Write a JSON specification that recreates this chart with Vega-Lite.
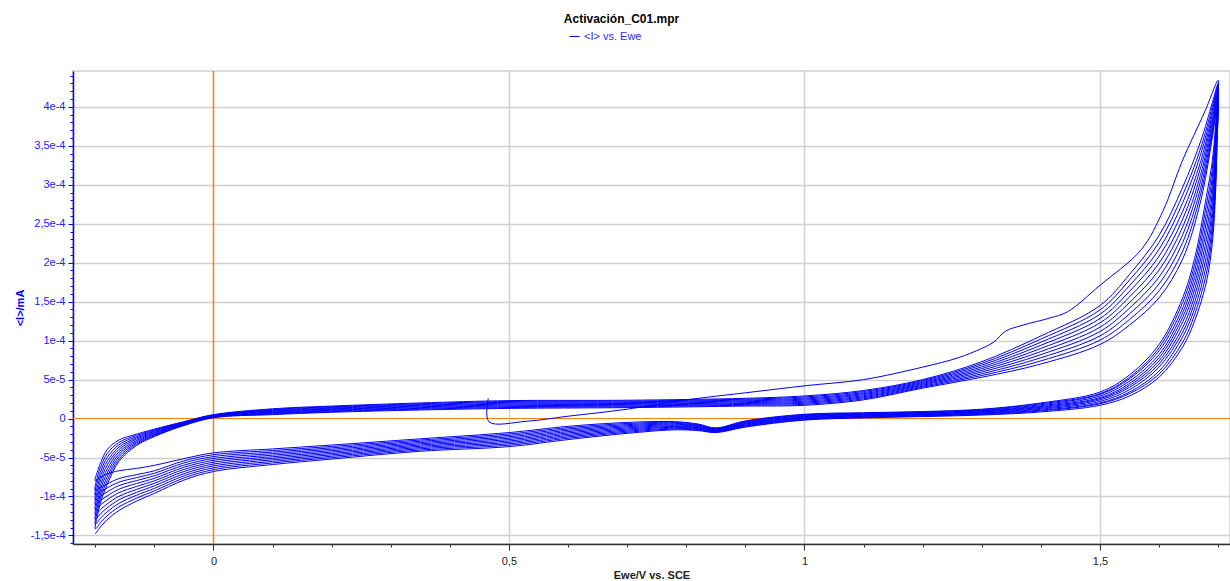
{
"$schema":"https://vega.github.io/schema/vega-lite/v6.json",
"width":1157,"height":473,
"autosize":"none",
"padding":{"left":73,"top":71,"right":0,"bottom":37},
"background":"white",
"config":{"font":"Liberation Sans","view":{"stroke":"#d0d0d0","strokeWidth":1.5}},
"title":{"text":"Activación_C01.mpr","anchor":"middle","fontSize":12,"fontWeight":"bold","color":"#000000","offset":5,"dx":-30,"font":"Liberation Sans"},
"layer":[
{"data":{"values":[{}]},"mark":{"type":"rule","color":"#ff8000","strokeWidth":1.5},
 "encoding":{"x":{"datum":0,"type":"quantitative","scale":{"domain":[-0.2377,1.72],"nice":false,"zero":false},
  "axis":{"orient":"bottom","values":[-0.2,-0.1,0,0.1,0.2,0.3,0.4,0.5,0.6,0.7,0.8,0.9,1,1.1,1.2,1.3,1.4,1.5,1.6,1.7],"labels":false,"domain":false,"grid":false,"tickSize":3,"tickColor":"#333333","title":null}}}},
{"data":{"values":[{}]},"mark":{"type":"rule","color":"#ff8000","strokeWidth":1},
 "encoding":{"y":{"datum":0,"type":"quantitative","scale":{"domain":[-1.61e-4,4.46e-4],"nice":false,"zero":false},
  "axis":{"orient":"left","values":[-16e-5,-15e-5,-14e-5,-13e-5,-12e-5,-11e-5,-10e-5,-9e-5,-8e-5,-7e-5,-6e-5,-5e-5,-4e-5,-3e-5,-2e-5,-1e-5,0,1e-5,2e-5,3e-5,4e-5,5e-5,6e-5,7e-5,8e-5,9e-5,10e-5,11e-5,12e-5,13e-5,14e-5,15e-5,16e-5,17e-5,18e-5,19e-5,20e-5,21e-5,22e-5,23e-5,24e-5,25e-5,26e-5,27e-5,28e-5,29e-5,30e-5,31e-5,32e-5,33e-5,34e-5,35e-5,36e-5,37e-5,38e-5,39e-5,40e-5,41e-5,42e-5,43e-5,44e-5],"labels":false,"domain":false,"grid":false,"tickSize":3,"tickColor":"#0000ff","title":null}}}},
{"data":{"values":[
{"x":0.465,"y":0.26e-4},{"x":0.466,"y":-0.04e-4},{"x":0.53,"y":-0.035e-4},{"x":0.6,"y":0.03e-4},{"x":0.7,"y":0.12e-4},{"x":0.8,"y":0.24e-4},{"x":0.9,"y":0.33e-4},{"x":1.0,"y":0.42e-4},{"x":1.1,"y":0.5e-4},{"x":1.2,"y":0.66e-4},{"x":1.26,"y":0.78e-4},{"x":1.3,"y":0.9e-4},{"x":1.32,"y":0.98e-4},{"x":1.34,"y":1.12e-4},{"x":1.37,"y":1.2e-4},{"x":1.415,"y":1.29e-4},{"x":1.445,"y":1.37e-4},{"x":1.5,"y":1.71e-4},{"x":1.57,"y":2.17e-4},{"x":1.607,"y":2.67e-4},{"x":1.639,"y":3.3e-4},{"x":1.678,"y":3.95e-4},{"x":1.7,"y":4.34e-4},
{"x":1.698,"y":4.05e-4},{"x":1.695,"y":3.7e-4},{"x":1.69,"y":3.3e-4},{"x":1.68,"y":2.85e-4},{"x":1.66,"y":2.05e-4},{"x":1.64,"y":1.55e-4},{"x":1.6,"y":0.95e-4},{"x":1.55,"y":0.56e-4},{"x":1.5,"y":0.34e-4},{"x":1.4,"y":0.2e-4},{"x":1.3,"y":0.12e-4},{"x":1.2,"y":0.09e-4},{"x":1.1,"y":0.075e-4},{"x":1.0,"y":0.055e-4},{"x":0.9,"y":-0.03e-4},{"x":0.85,"y":-0.12e-4},{"x":0.82,"y":-0.07e-4},{"x":0.78,"y":-0.04e-4},{"x":0.7,"y":-0.05e-4},{"x":0.6,"y":-0.1e-4},{"x":0.5,"y":-0.18e-4},{"x":0.35,"y":-0.26e-4},{"x":0.2,"y":-0.34e-4},{"x":0.1,"y":-0.39e-4},{"x":0,"y":-0.44e-4},{"x":-0.05,"y":-0.515e-4},{"x":-0.1,"y":-0.6e-4},{"x":-0.13,"y":-0.64e-4},{"x":-0.16,"y":-0.67e-4},{"x":-0.18,"y":-0.71e-4},{"x":-0.19,"y":-0.75e-4},{"x":-0.2,"y":-0.8e-4},
{"x":-0.195,"y":-0.65e-4},{"x":-0.19,"y":-0.55e-4},{"x":-0.18,"y":-0.4e-4},{"x":-0.16,"y":-0.275e-4},{"x":-0.13,"y":-0.2e-4},{"x":-0.09,"y":-0.115e-4},{"x":-0.05,"y":-0.04e-4},{"x":0,"y":0.05e-4},{"x":0.1,"y":0.125e-4},{"x":0.2,"y":0.16e-4},{"x":0.35,"y":0.2e-4},{"x":0.5,"y":0.23e-4},{"x":0.7,"y":0.235e-4},{"x":0.9,"y":0.26e-4},{"x":1.0,"y":0.29e-4},{"x":1.1,"y":0.36e-4},{"x":1.2,"y":0.5e-4},{"x":1.3,"y":0.73e-4},{"x":1.4,"y":1.06e-4},{"x":1.5,"y":1.45e-4},{"x":1.55,"y":1.85e-4},{"x":1.6,"y":2.35e-4},{"x":1.64,"y":2.97e-4},{"x":1.67,"y":3.55e-4},{"x":1.69,"y":4.05e-4},{"x":1.7,"y":4.3e-4},
{"x":1.698,"y":4.0e-4},{"x":1.695,"y":3.61e-4},{"x":1.69,"y":3.2e-4},{"x":1.68,"y":2.74e-4},{"x":1.66,"y":1.97e-4},{"x":1.64,"y":1.49e-4},{"x":1.6,"y":0.91e-4},{"x":1.55,"y":0.53e-4},{"x":1.5,"y":0.32e-4},{"x":1.4,"y":0.19e-4},{"x":1.3,"y":0.113e-4},{"x":1.2,"y":0.084e-4},{"x":1.1,"y":0.068e-4},{"x":1.0,"y":0.048e-4},{"x":0.9,"y":-0.038e-4},{"x":0.85,"y":-0.126e-4},{"x":0.82,"y":-0.079e-4},{"x":0.78,"y":-0.05e-4},{"x":0.7,"y":-0.064e-4},{"x":0.6,"y":-0.117e-4},{"x":0.5,"y":-0.198e-4},{"x":0.35,"y":-0.276e-4},{"x":0.2,"y":-0.358e-4},{"x":0.1,"y":-0.41e-4},{"x":0,"y":-0.464e-4},{"x":-0.05,"y":-0.543e-4},{"x":-0.1,"y":-0.67e-4},{"x":-0.13,"y":-0.72e-4},{"x":-0.16,"y":-0.77e-4},{"x":-0.18,"y":-0.84e-4},{"x":-0.19,"y":-0.88e-4},{"x":-0.2,"y":-0.92e-4},
{"x":-0.195,"y":-0.711e-4},{"x":-0.19,"y":-0.606e-4},{"x":-0.18,"y":-0.45e-4},{"x":-0.16,"y":-0.306e-4},{"x":-0.13,"y":-0.216e-4},{"x":-0.09,"y":-0.124e-4},{"x":-0.05,"y":-0.046e-4},{"x":0,"y":0.046e-4},{"x":0.1,"y":0.117e-4},{"x":0.2,"y":0.151e-4},{"x":0.35,"y":0.19e-4},{"x":0.5,"y":0.219e-4},{"x":0.7,"y":0.224e-4},{"x":0.9,"y":0.249e-4},{"x":1.0,"y":0.277e-4},{"x":1.1,"y":0.347e-4},{"x":1.2,"y":0.488e-4},{"x":1.3,"y":0.708e-4},{"x":1.4,"y":1.02e-4},{"x":1.5,"y":1.394e-4},{"x":1.55,"y":1.778e-4},{"x":1.6,"y":2.261e-4},{"x":1.64,"y":2.87e-4},{"x":1.67,"y":3.46e-4},{"x":1.69,"y":4.0e-4},{"x":1.7,"y":4.28e-4},
{"x":1.698,"y":3.94e-4},{"x":1.695,"y":3.52e-4},{"x":1.69,"y":3.09e-4},{"x":1.68,"y":2.63e-4},{"x":1.66,"y":1.89e-4},{"x":1.64,"y":1.42e-4},{"x":1.6,"y":0.87e-4},{"x":1.55,"y":0.51e-4},{"x":1.5,"y":0.31e-4},{"x":1.4,"y":0.177e-4},{"x":1.3,"y":0.105e-4},{"x":1.2,"y":0.077e-4},{"x":1.1,"y":0.061e-4},{"x":1.0,"y":0.04e-4},{"x":0.9,"y":-0.046e-4},{"x":0.85,"y":-0.132e-4},{"x":0.82,"y":-0.087e-4},{"x":0.78,"y":-0.061e-4},{"x":0.7,"y":-0.078e-4},{"x":0.6,"y":-0.134e-4},{"x":0.5,"y":-0.216e-4},{"x":0.35,"y":-0.292e-4},{"x":0.2,"y":-0.376e-4},{"x":0.1,"y":-0.43e-4},{"x":0,"y":-0.488e-4},{"x":-0.05,"y":-0.57e-4},{"x":-0.1,"y":-0.702e-4},{"x":-0.13,"y":-0.758e-4},{"x":-0.16,"y":-0.816e-4},{"x":-0.18,"y":-0.891e-4},{"x":-0.19,"y":-0.936e-4},{"x":-0.2,"y":-0.982e-4},
{"x":-0.195,"y":-0.772e-4},{"x":-0.19,"y":-0.661e-4},{"x":-0.18,"y":-0.5e-4},{"x":-0.16,"y":-0.336e-4},{"x":-0.13,"y":-0.232e-4},{"x":-0.09,"y":-0.134e-4},{"x":-0.05,"y":-0.051e-4},{"x":0,"y":0.041e-4},{"x":0.1,"y":0.108e-4},{"x":0.2,"y":0.142e-4},{"x":0.35,"y":0.18e-4},{"x":0.5,"y":0.208e-4},{"x":0.7,"y":0.214e-4},{"x":0.9,"y":0.238e-4},{"x":1.0,"y":0.263e-4},{"x":1.1,"y":0.333e-4},{"x":1.2,"y":0.476e-4},{"x":1.3,"y":0.686e-4},{"x":1.4,"y":0.98e-4},{"x":1.5,"y":1.339e-4},{"x":1.55,"y":1.706e-4},{"x":1.6,"y":2.172e-4},{"x":1.64,"y":2.77e-4},{"x":1.67,"y":3.38e-4},{"x":1.69,"y":3.95e-4},{"x":1.7,"y":4.26e-4},
{"x":1.698,"y":3.89e-4},{"x":1.695,"y":3.43e-4},{"x":1.69,"y":2.99e-4},{"x":1.68,"y":2.52e-4},{"x":1.66,"y":1.81e-4},{"x":1.64,"y":1.36e-4},{"x":1.6,"y":0.82e-4},{"x":1.55,"y":0.48e-4},{"x":1.5,"y":0.29e-4},{"x":1.4,"y":0.165e-4},{"x":1.3,"y":0.098e-4},{"x":1.2,"y":0.071e-4},{"x":1.1,"y":0.055e-4},{"x":1.0,"y":0.033e-4},{"x":0.9,"y":-0.054e-4},{"x":0.85,"y":-0.138e-4},{"x":0.82,"y":-0.096e-4},{"x":0.78,"y":-0.072e-4},{"x":0.7,"y":-0.092e-4},{"x":0.6,"y":-0.151e-4},{"x":0.5,"y":-0.234e-4},{"x":0.35,"y":-0.308e-4},{"x":0.2,"y":-0.394e-4},{"x":0.1,"y":-0.45e-4},{"x":0,"y":-0.512e-4},{"x":-0.05,"y":-0.598e-4},{"x":-0.1,"y":-0.734e-4},{"x":-0.13,"y":-0.796e-4},{"x":-0.16,"y":-0.861e-4},{"x":-0.18,"y":-0.942e-4},{"x":-0.19,"y":-0.991e-4},{"x":-0.2,"y":-1.044e-4},
{"x":-0.195,"y":-0.833e-4},{"x":-0.19,"y":-0.717e-4},{"x":-0.18,"y":-0.55e-4},{"x":-0.16,"y":-0.367e-4},{"x":-0.13,"y":-0.248e-4},{"x":-0.09,"y":-0.143e-4},{"x":-0.05,"y":-0.057e-4},{"x":0,"y":0.037e-4},{"x":0.1,"y":0.1e-4},{"x":0.2,"y":0.133e-4},{"x":0.35,"y":0.17e-4},{"x":0.5,"y":0.197e-4},{"x":0.7,"y":0.203e-4},{"x":0.9,"y":0.227e-4},{"x":1.0,"y":0.25e-4},{"x":1.1,"y":0.32e-4},{"x":1.2,"y":0.463e-4},{"x":1.3,"y":0.663e-4},{"x":1.4,"y":0.94e-4},{"x":1.5,"y":1.283e-4},{"x":1.55,"y":1.633e-4},{"x":1.6,"y":2.083e-4},{"x":1.64,"y":2.66e-4},{"x":1.67,"y":3.29e-4},{"x":1.69,"y":3.9e-4},{"x":1.7,"y":4.23e-4},
{"x":1.698,"y":3.83e-4},{"x":1.695,"y":3.34e-4},{"x":1.69,"y":2.88e-4},{"x":1.68,"y":2.41e-4},{"x":1.66,"y":1.73e-4},{"x":1.64,"y":1.3e-4},{"x":1.6,"y":0.78e-4},{"x":1.55,"y":0.45e-4},{"x":1.5,"y":0.27e-4},{"x":1.4,"y":0.154e-4},{"x":1.3,"y":0.09e-4},{"x":1.2,"y":0.064e-4},{"x":1.1,"y":0.048e-4},{"x":1.0,"y":0.025e-4},{"x":0.9,"y":-0.062e-4},{"x":0.85,"y":-0.144e-4},{"x":0.82,"y":-0.104e-4},{"x":0.78,"y":-0.082e-4},{"x":0.7,"y":-0.106e-4},{"x":0.6,"y":-0.168e-4},{"x":0.5,"y":-0.252e-4},{"x":0.35,"y":-0.324e-4},{"x":0.2,"y":-0.412e-4},{"x":0.1,"y":-0.47e-4},{"x":0,"y":-0.536e-4},{"x":-0.05,"y":-0.625e-4},{"x":-0.1,"y":-0.767e-4},{"x":-0.13,"y":-0.833e-4},{"x":-0.16,"y":-0.907e-4},{"x":-0.18,"y":-0.993e-4},{"x":-0.19,"y":-1.047e-4},{"x":-0.2,"y":-1.107e-4},
{"x":-0.195,"y":-0.894e-4},{"x":-0.19,"y":-0.772e-4},{"x":-0.18,"y":-0.6e-4},{"x":-0.16,"y":-0.397e-4},{"x":-0.13,"y":-0.264e-4},{"x":-0.09,"y":-0.153e-4},{"x":-0.05,"y":-0.062e-4},{"x":0,"y":0.032e-4},{"x":0.1,"y":0.092e-4},{"x":0.2,"y":0.124e-4},{"x":0.35,"y":0.16e-4},{"x":0.5,"y":0.186e-4},{"x":0.7,"y":0.193e-4},{"x":0.9,"y":0.216e-4},{"x":1.0,"y":0.237e-4},{"x":1.1,"y":0.307e-4},{"x":1.2,"y":0.451e-4},{"x":1.3,"y":0.641e-4},{"x":1.4,"y":0.9e-4},{"x":1.5,"y":1.228e-4},{"x":1.55,"y":1.561e-4},{"x":1.6,"y":1.994e-4},{"x":1.64,"y":2.56e-4},{"x":1.67,"y":3.21e-4},{"x":1.69,"y":3.85e-4},{"x":1.7,"y":4.21e-4},
{"x":1.698,"y":3.78e-4},{"x":1.695,"y":3.25e-4},{"x":1.69,"y":2.78e-4},{"x":1.68,"y":2.3e-4},{"x":1.66,"y":1.65e-4},{"x":1.64,"y":1.24e-4},{"x":1.6,"y":0.74e-4},{"x":1.55,"y":0.425e-4},{"x":1.5,"y":0.255e-4},{"x":1.4,"y":0.143e-4},{"x":1.3,"y":0.083e-4},{"x":1.2,"y":0.058e-4},{"x":1.1,"y":0.042e-4},{"x":1.0,"y":0.018e-4},{"x":0.9,"y":-0.07e-4},{"x":0.85,"y":-0.15e-4},{"x":0.82,"y":-0.113e-4},{"x":0.78,"y":-0.093e-4},{"x":0.7,"y":-0.12e-4},{"x":0.6,"y":-0.185e-4},{"x":0.5,"y":-0.27e-4},{"x":0.35,"y":-0.34e-4},{"x":0.2,"y":-0.43e-4},{"x":0.1,"y":-0.49e-4},{"x":0,"y":-0.56e-4},{"x":-0.05,"y":-0.653e-4},{"x":-0.1,"y":-0.799e-4},{"x":-0.13,"y":-0.871e-4},{"x":-0.16,"y":-0.952e-4},{"x":-0.18,"y":-1.044e-4},{"x":-0.19,"y":-1.102e-4},{"x":-0.2,"y":-1.169e-4},
{"x":-0.195,"y":-0.956e-4},{"x":-0.19,"y":-0.828e-4},{"x":-0.18,"y":-0.65e-4},{"x":-0.16,"y":-0.428e-4},{"x":-0.13,"y":-0.281e-4},{"x":-0.09,"y":-0.162e-4},{"x":-0.05,"y":-0.068e-4},{"x":0,"y":0.028e-4},{"x":0.1,"y":0.083e-4},{"x":0.2,"y":0.116e-4},{"x":0.35,"y":0.15e-4},{"x":0.5,"y":0.174e-4},{"x":0.7,"y":0.182e-4},{"x":0.9,"y":0.204e-4},{"x":1.0,"y":0.223e-4},{"x":1.1,"y":0.293e-4},{"x":1.2,"y":0.439e-4},{"x":1.3,"y":0.619e-4},{"x":1.4,"y":0.86e-4},{"x":1.5,"y":1.172e-4},{"x":1.55,"y":1.489e-4},{"x":1.6,"y":1.906e-4},{"x":1.64,"y":2.46e-4},{"x":1.67,"y":3.12e-4},{"x":1.69,"y":3.8e-4},{"x":1.7,"y":4.19e-4},
{"x":1.698,"y":3.72e-4},{"x":1.695,"y":3.16e-4},{"x":1.69,"y":2.67e-4},{"x":1.68,"y":2.19e-4},{"x":1.66,"y":1.57e-4},{"x":1.64,"y":1.17e-4},{"x":1.6,"y":0.7e-4},{"x":1.55,"y":0.4e-4},{"x":1.5,"y":0.24e-4},{"x":1.4,"y":0.131e-4},{"x":1.3,"y":0.075e-4},{"x":1.2,"y":0.051e-4},{"x":1.1,"y":0.035e-4},{"x":1.0,"y":0.01e-4},{"x":0.9,"y":-0.078e-4},{"x":0.85,"y":-0.156e-4},{"x":0.82,"y":-0.121e-4},{"x":0.78,"y":-0.103e-4},{"x":0.7,"y":-0.134e-4},{"x":0.6,"y":-0.202e-4},{"x":0.5,"y":-0.288e-4},{"x":0.35,"y":-0.356e-4},{"x":0.2,"y":-0.448e-4},{"x":0.1,"y":-0.51e-4},{"x":0,"y":-0.584e-4},{"x":-0.05,"y":-0.68e-4},{"x":-0.1,"y":-0.831e-4},{"x":-0.13,"y":-0.909e-4},{"x":-0.16,"y":-0.998e-4},{"x":-0.18,"y":-1.096e-4},{"x":-0.19,"y":-1.158e-4},{"x":-0.2,"y":-1.231e-4},
{"x":-0.195,"y":-1.017e-4},{"x":-0.19,"y":-0.883e-4},{"x":-0.18,"y":-0.7e-4},{"x":-0.16,"y":-0.459e-4},{"x":-0.13,"y":-0.297e-4},{"x":-0.09,"y":-0.172e-4},{"x":-0.05,"y":-0.073e-4},{"x":0,"y":0.023e-4},{"x":0.1,"y":0.075e-4},{"x":0.2,"y":0.107e-4},{"x":0.35,"y":0.14e-4},{"x":0.5,"y":0.163e-4},{"x":0.7,"y":0.172e-4},{"x":0.9,"y":0.193e-4},{"x":1.0,"y":0.21e-4},{"x":1.1,"y":0.28e-4},{"x":1.2,"y":0.427e-4},{"x":1.3,"y":0.597e-4},{"x":1.4,"y":0.82e-4},{"x":1.5,"y":1.117e-4},{"x":1.55,"y":1.417e-4},{"x":1.6,"y":1.817e-4},{"x":1.64,"y":2.36e-4},{"x":1.67,"y":3.04e-4},{"x":1.69,"y":3.75e-4},{"x":1.7,"y":4.17e-4},
{"x":1.698,"y":3.67e-4},{"x":1.695,"y":3.07e-4},{"x":1.69,"y":2.57e-4},{"x":1.68,"y":2.08e-4},{"x":1.66,"y":1.49e-4},{"x":1.64,"y":1.11e-4},{"x":1.6,"y":0.66e-4},{"x":1.55,"y":0.37e-4},{"x":1.5,"y":0.22e-4},{"x":1.4,"y":0.12e-4},{"x":1.3,"y":0.068e-4},{"x":1.2,"y":0.045e-4},{"x":1.1,"y":0.028e-4},{"x":1.0,"y":0.003e-4},{"x":0.9,"y":-0.086e-4},{"x":0.85,"y":-0.162e-4},{"x":0.82,"y":-0.13e-4},{"x":0.78,"y":-0.113e-4},{"x":0.7,"y":-0.148e-4},{"x":0.6,"y":-0.219e-4},{"x":0.5,"y":-0.306e-4},{"x":0.35,"y":-0.372e-4},{"x":0.2,"y":-0.466e-4},{"x":0.1,"y":-0.53e-4},{"x":0,"y":-0.608e-4},{"x":-0.05,"y":-0.708e-4},{"x":-0.1,"y":-0.863e-4},{"x":-0.13,"y":-0.947e-4},{"x":-0.16,"y":-1.043e-4},{"x":-0.18,"y":-1.147e-4},{"x":-0.19,"y":-1.213e-4},{"x":-0.2,"y":-1.293e-4},
{"x":-0.195,"y":-1.078e-4},{"x":-0.19,"y":-0.939e-4},{"x":-0.18,"y":-0.75e-4},{"x":-0.16,"y":-0.489e-4},{"x":-0.13,"y":-0.313e-4},{"x":-0.09,"y":-0.181e-4},{"x":-0.05,"y":-0.079e-4},{"x":0,"y":0.019e-4},{"x":0.1,"y":0.067e-4},{"x":0.2,"y":0.098e-4},{"x":0.35,"y":0.13e-4},{"x":0.5,"y":0.152e-4},{"x":0.7,"y":0.161e-4},{"x":0.9,"y":0.182e-4},{"x":1.0,"y":0.197e-4},{"x":1.1,"y":0.267e-4},{"x":1.2,"y":0.414e-4},{"x":1.3,"y":0.574e-4},{"x":1.4,"y":0.78e-4},{"x":1.5,"y":1.061e-4},{"x":1.55,"y":1.344e-4},{"x":1.6,"y":1.728e-4},{"x":1.64,"y":2.26e-4},{"x":1.67,"y":2.95e-4},{"x":1.69,"y":3.7e-4},{"x":1.7,"y":4.14e-4},
{"x":1.698,"y":3.61e-4},{"x":1.695,"y":2.98e-4},{"x":1.69,"y":2.46e-4},{"x":1.68,"y":1.97e-4},{"x":1.66,"y":1.41e-4},{"x":1.64,"y":1.05e-4},{"x":1.6,"y":0.61e-4},{"x":1.55,"y":0.34e-4},{"x":1.5,"y":0.2e-4},{"x":1.4,"y":0.108e-4},{"x":1.3,"y":0.06e-4},{"x":1.2,"y":0.038e-4},{"x":1.1,"y":0.021e-4},{"x":1.0,"y":-0.005e-4},{"x":0.9,"y":-0.094e-4},{"x":0.85,"y":-0.168e-4},{"x":0.82,"y":-0.138e-4},{"x":0.78,"y":-0.124e-4},{"x":0.7,"y":-0.162e-4},{"x":0.6,"y":-0.236e-4},{"x":0.5,"y":-0.324e-4},{"x":0.35,"y":-0.388e-4},{"x":0.2,"y":-0.484e-4},{"x":0.1,"y":-0.55e-4},{"x":0,"y":-0.632e-4},{"x":-0.05,"y":-0.735e-4},{"x":-0.1,"y":-0.896e-4},{"x":-0.13,"y":-0.984e-4},{"x":-0.16,"y":-1.089e-4},{"x":-0.18,"y":-1.198e-4},{"x":-0.19,"y":-1.269e-4},{"x":-0.2,"y":-1.356e-4},
{"x":-0.195,"y":-1.139e-4},{"x":-0.19,"y":-0.994e-4},{"x":-0.18,"y":-0.8e-4},{"x":-0.16,"y":-0.52e-4},{"x":-0.13,"y":-0.329e-4},{"x":-0.09,"y":-0.191e-4},{"x":-0.05,"y":-0.084e-4},{"x":0,"y":0.014e-4},{"x":0.1,"y":0.058e-4},{"x":0.2,"y":0.089e-4},{"x":0.35,"y":0.12e-4},{"x":0.5,"y":0.141e-4},{"x":0.7,"y":0.151e-4},{"x":0.9,"y":0.171e-4},{"x":1.0,"y":0.183e-4},{"x":1.1,"y":0.253e-4},{"x":1.2,"y":0.402e-4},{"x":1.3,"y":0.552e-4},{"x":1.4,"y":0.74e-4},{"x":1.5,"y":1.006e-4},{"x":1.55,"y":1.272e-4},{"x":1.6,"y":1.639e-4},{"x":1.64,"y":2.15e-4},{"x":1.67,"y":2.87e-4},{"x":1.69,"y":3.65e-4},{"x":1.7,"y":4.12e-4},
{"x":1.698,"y":3.56e-4},{"x":1.695,"y":2.89e-4},{"x":1.69,"y":2.36e-4},{"x":1.68,"y":1.86e-4},{"x":1.66,"y":1.33e-4},{"x":1.64,"y":0.98e-4},{"x":1.6,"y":0.57e-4},{"x":1.55,"y":0.32e-4},{"x":1.5,"y":0.19e-4},{"x":1.4,"y":0.097e-4},{"x":1.3,"y":0.053e-4},{"x":1.2,"y":0.032e-4},{"x":1.1,"y":0.015e-4},{"x":1.0,"y":-0.013e-4},{"x":0.9,"y":-0.102e-4},{"x":0.85,"y":-0.174e-4},{"x":0.82,"y":-0.147e-4},{"x":0.78,"y":-0.135e-4},{"x":0.7,"y":-0.176e-4},{"x":0.6,"y":-0.253e-4},{"x":0.5,"y":-0.342e-4},{"x":0.35,"y":-0.404e-4},{"x":0.2,"y":-0.502e-4},{"x":0.1,"y":-0.57e-4},{"x":0,"y":-0.656e-4},{"x":-0.05,"y":-0.763e-4},{"x":-0.1,"y":-0.928e-4},{"x":-0.13,"y":-1.022e-4},{"x":-0.16,"y":-1.134e-4},{"x":-0.18,"y":-1.249e-4},{"x":-0.19,"y":-1.324e-4},{"x":-0.2,"y":-1.418e-4},
{"x":-0.195,"y":-1.2e-4},{"x":-0.19,"y":-1.05e-4},{"x":-0.18,"y":-0.85e-4},{"x":-0.16,"y":-0.55e-4},{"x":-0.13,"y":-0.345e-4},{"x":-0.09,"y":-0.2e-4},{"x":-0.05,"y":-0.09e-4},{"x":0,"y":0.01e-4},{"x":0.1,"y":0.05e-4},{"x":0.2,"y":0.08e-4},{"x":0.35,"y":0.11e-4},{"x":0.5,"y":0.13e-4},{"x":0.7,"y":0.14e-4},{"x":0.9,"y":0.16e-4},{"x":1.0,"y":0.17e-4},{"x":1.1,"y":0.24e-4},{"x":1.2,"y":0.39e-4},{"x":1.3,"y":0.53e-4},{"x":1.4,"y":0.7e-4},{"x":1.5,"y":0.95e-4},{"x":1.55,"y":1.2e-4},{"x":1.6,"y":1.55e-4},{"x":1.64,"y":2.05e-4},{"x":1.67,"y":2.78e-4},{"x":1.69,"y":3.6e-4},{"x":1.7,"y":4.1e-4},
{"x":1.698,"y":3.5e-4},{"x":1.695,"y":2.8e-4},{"x":1.69,"y":2.25e-4},{"x":1.68,"y":1.75e-4},{"x":1.66,"y":1.25e-4},{"x":1.64,"y":0.92e-4},{"x":1.6,"y":0.53e-4},{"x":1.55,"y":0.29e-4},{"x":1.5,"y":0.17e-4},{"x":1.4,"y":0.085e-4},{"x":1.3,"y":0.045e-4},{"x":1.2,"y":0.025e-4},{"x":1.1,"y":0.008e-4},{"x":1.0,"y":-0.02e-4},{"x":0.9,"y":-0.11e-4},{"x":0.85,"y":-0.18e-4},{"x":0.82,"y":-0.155e-4},{"x":0.78,"y":-0.145e-4},{"x":0.7,"y":-0.19e-4},{"x":0.6,"y":-0.27e-4},{"x":0.5,"y":-0.36e-4},{"x":0.35,"y":-0.42e-4},{"x":0.2,"y":-0.52e-4},{"x":0.1,"y":-0.59e-4},{"x":0,"y":-0.68e-4},{"x":-0.05,"y":-0.79e-4},{"x":-0.1,"y":-0.96e-4},{"x":-0.13,"y":-1.06e-4},{"x":-0.16,"y":-1.18e-4},{"x":-0.18,"y":-1.3e-4},{"x":-0.19,"y":-1.38e-4},{"x":-0.2,"y":-1.48e-4}
]},
 "mark":{"type":"line","strokeWidth":1,"interpolate":"catmull-rom"},
 "encoding":{
  "x":{"field":"x","type":"quantitative","scale":{"domain":[-0.2377,1.72],"nice":false,"zero":false},
   "axis":{"orient":"bottom","values":[0,0.5,1,1.5],"labelExpr":"replace(toString(datum.value),'.',',')","grid":true,"gridColor":{"condition":{"test":"datum.value === 0","value":"transparent"},"value":"#d0d0d0"},"gridWidth":1.5,"tickSize":6,"tickColor":"#333333","domainColor":"#333333","domainWidth":1.5,"labelColor":"#222222","labelFontSize":11,"labelPadding":5,"title":"Ewe/V vs. SCE","titleFontWeight":"bold","titleFontSize":11,"titleColor":"#222222","titlePadding":3}},
  "y":{"field":"y","type":"quantitative","scale":{"domain":[-1.61e-4,4.46e-4],"nice":false,"zero":false},
   "axis":{"orient":"left","values":[-15e-5,-10e-5,-5e-5,0,5e-5,10e-5,15e-5,20e-5,25e-5,30e-5,35e-5,40e-5],"labelExpr":"datum.value == 0 ? '0' : (datum.value < 0 ? '-' : '') + replace(format(abs(datum.value), '~e'), '.', ',')","grid":true,"gridColor":{"condition":{"test":"datum.value === 0","value":"transparent"},"value":"#d0d0d0"},"gridWidth":1.5,"tickSize":5,"tickColor":"#0000ff","domainColor":"#0000ff","domainWidth":1.5,"labelColor":"#2020ff","labelFontSize":11,"labelPadding":3,"title":"<I>/mA","titleColor":"#0000ff","titleFontWeight":"bold","titleFontSize":11,"titlePadding":5}},
  "color":{"datum":"<I> vs. Ewe","type":"nominal","scale":{"domain":["<I> vs. Ewe"],"range":["#0000ff"]},
   "legend":{"orient":"none","legendX":496,"legendY":-40,"title":null,"symbolType":"stroke","symbolSize":100,"symbolStrokeWidth":1,"labelColor":"#2b2bff","labelFontSize":11,"labelFont":"Liberation Sans","padding":0}},
  "order":{"value":null}
 }}
],
"resolve":{"axis":{"x":"independent","y":"independent"}}
}
